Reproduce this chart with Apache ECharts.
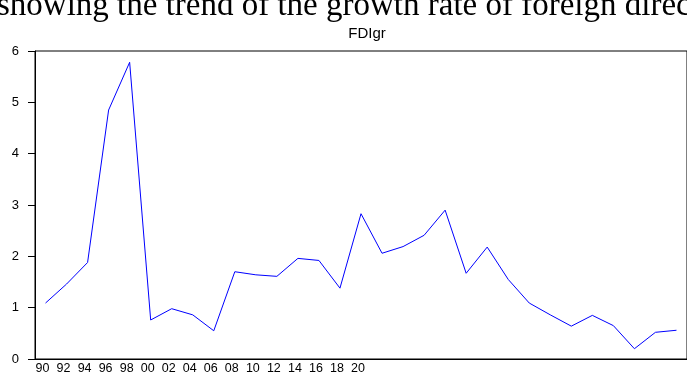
<!DOCTYPE html>
<html>
<head>
<meta charset="utf-8">
<script src="https://cdn.jsdelivr.net/npm/echarts@6/dist/echarts.min.js"></script>
<style>
  html, body { margin: 0; padding: 0; background: #fff; }
  #chart { width: 687px; height: 380px; }
</style>
</head>
<body>
<div id="chart"></div>
<script>
  // annual observations, 1990 - 2020
  const years = []
  for (let y = 1990; y <= 2020; y++) years.push(String(y))

  const fdigr = [
    1.09, 1.46, 1.88, 4.85, 5.78, 0.76, 0.98, 0.86, 0.55, 1.70,
    1.64, 1.61, 1.96, 1.92, 1.38, 2.83, 2.06, 2.19, 2.41, 2.90,
    1.67, 2.18, 1.55, 1.09, 0.86, 0.64, 0.85, 0.65, 0.20, 0.52,
    0.56
  ]

  // EViews puts these on the first ticks only
  const tickLabels = ['90', '92', '94', '96', '98', '00', '02', '04',
    '06', '08', '10', '12', '14', '16', '18', '20']

  const chart = echarts.init(document.getElementById('chart'), null, { renderer: 'canvas' })

  chart.setOption({
    animation: false,
    backgroundColor: '#fff',
    title: {
      text: 'FDIgr',
      left: 362,
      top: 21,
      textAlign: 'center',
      textStyle: {
        fontFamily: 'Liberation Sans',
        fontSize: 15,
        fontWeight: 'normal',
        color: '#000'
      }
    },
    graphic: [{
      // caption of the page, cut off at the top of the picture
      type: 'text',
      left: -3,
      top: -10,
      style: {
        text: 'showing the trend of the growth rate of foreign direct',
        font: '33px "Liberation Serif"',
        fill: '#000'
      }
    }],
    grid: {
      left: 35,
      top: 51,
      bottom: 21,
      right: -7,
      show: true,
      borderColor: '#000',
      borderWidth: 1
    },
    xAxis: {
      type: 'category',
      data: years,
      boundaryGap: true,
      axisLine: { lineStyle: { color: '#000', width: 1 } },
      axisTick: { interval: 0, length: 5, lineStyle: { color: '#000' } },
      axisLabel: {
        interval: 0,
        margin: 3,
        formatter: (v, i) => i < tickLabels.length ? '{t|' + tickLabels[i] + '}' : '',
        rich: {
          t: {
            fontFamily: 'Liberation Sans',
            fontSize: 12.5,
            color: '#000',
            padding: [0, 6, 0, 0]
          }
        }
      },
      splitLine: { show: false }
    },
    yAxis: {
      type: 'value',
      min: 0,
      max: 6,
      interval: 1,
      axisLine: { show: true, lineStyle: { color: '#000', width: 1 } },
      axisTick: { show: true, length: 7, lineStyle: { color: '#000' } },
      axisLabel: {
        margin: 16,
        fontFamily: 'Liberation Sans',
        fontSize: 13,
        color: '#000'
      },
      splitLine: { show: false }
    },
    series: [{
      name: 'FDIgr',
      type: 'line',
      data: fdigr,
      symbol: 'none',
      lineStyle: { color: '#0000ff', width: 1 }
    }]
  })
</script>
</body>
</html>
